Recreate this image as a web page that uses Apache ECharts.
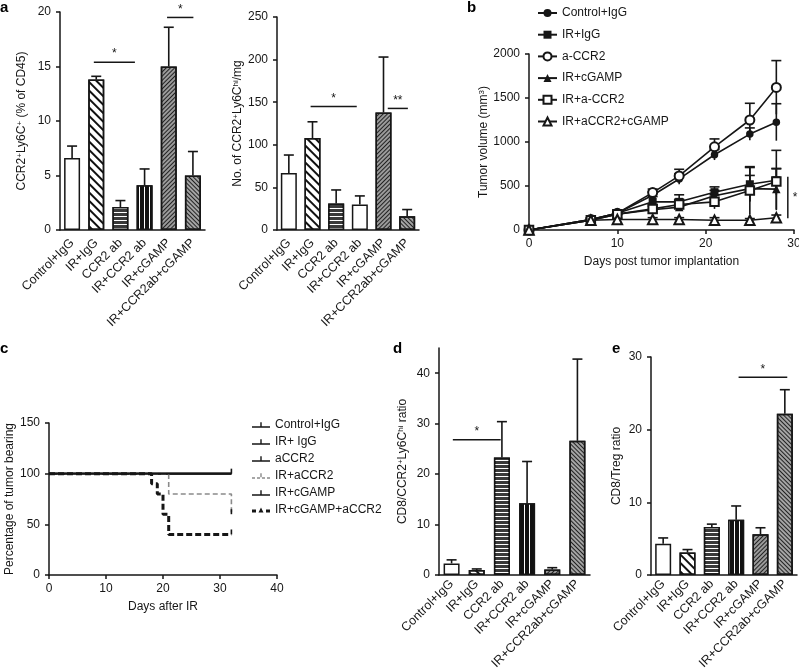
<!DOCTYPE html>
<html>
<head>
<meta charset="utf-8">
<script src="https://cdn.jsdelivr.net/npm/echarts@6/dist/echarts.min.js"></script>
<style>
html, body { margin: 0; padding: 0; background: #fff; }
.layer { position: absolute; left: 0; top: 0; width: 799px; height: 668px; }
</style>
</head>
<body>
<div id="main" class="layer"></div>
<div id="surv" class="layer"></div>
<script>
// groups shared by the bar panels (a, d, e)
var groups = ['Control+IgG', 'IR+IgG', 'CCR2 ab', 'IR+CCR2 ab', 'IR+cGAMP', 'IR+CCR2ab+cGAMP'];

// panel a, left: CCR2+Ly6C+ (% of CD45)
var pctMean = [6.6, 13.8, 2.1, 4.1, 15.0, 5.0];
var pctErr = [1.1, 0.3, 0.6, 1.5, 3.6, 2.2];
// panel a, right: No. of CCR2+Ly6Chi / mg
var cntMean = [67, 108, 31, 30, 138, 16];
var cntErr = [21, 19, 16, 10, 65, 8];
// panel d: CD8 / CCR2+Ly6Chi ratio
var moMean = [2.3, 1.0, 23.3, 14.2, 1.1, 26.6];
var moErr = [0.7, 0.2, 7.1, 8.3, 0.35, 16.2];
// panel e: CD8 / Treg ratio
var tregMean = [4.3, 3.1, 6.6, 7.6, 5.6, 22.2];
var tregErr = [0.8, 0.4, 0.4, 1.9, 0.9, 3.3];

// significance bars: [from category, to category, height, label]
var pctSig = [[0.9, 2.6, 15.4, '*'], [3.93, 5.02, 19.5, '*']];
var cntSig = [[0.92, 2.87, 145, '*'], [4.18, 5.03, 142.7, '**']];
var moSig = [[0.05, 1.95, 26.8, '*']];
var tregSig = [[3.1, 5.1, 27.2, '*']];

// panel b: tumour volume (mm3) by day
var days = [0, 7, 10, 14, 17, 21, 25, 28];
var volNames = ['Control+IgG', 'IR+IgG', 'a-CCR2', 'IR+cGAMP', 'IR+a-CCR2', 'IR+aCCR2+cGAMP'];
var volCtrl = [0, 120, 190, 395, 580, 855, 1090, 1225];
var volIR = [0, 120, 190, 320, 320, 430, 520, 565];
var volCCR2 = [0, 120, 190, 425, 615, 945, 1250, 1620];
var volCG = [0, 110, 180, 230, 260, 390, 470, 465];
var volIRCCR2 = [0, 110, 180, 240, 290, 320, 450, 550];
var volTriple = [0, 110, 120, 120, 120, 110, 110, 140];
var volCtrlErr = [0, 15, 20, 40, 60, 60, 70, 210];
var volIRErr = [0, 20, 25, 60, 80, 60, 190, 340];
var volCCR2Err = [0, 15, 25, 40, 75, 90, 190, 305];
var volCGErr = [0, 15, 20, 40, 40, 60, 150, 230];
var volIRCCR2Err = [0, 15, 20, 50, 60, 80, 270, 150];
var volTripleErr = [0, 10, 15, 20, 20, 30, 20, 30];
var volSig = [[29.3, 133, 606, '*']];

// panel c: Kaplan-Meier, percentage tumour bearing
var kmNames = ['Control+IgG', 'IR+ IgG', 'aCCR2', 'IR+aCCR2', 'IR+cGAMP', 'IR+cGAMP+aCCR2'];
var kmCtrl = [[0, 100], [32, 100]];
var kmIR = [[0, 100], [32, 100]];
var kmCCR2 = [[0, 100], [32, 100]];
var kmIRCCR2 = [[0, 100], [21, 80], [32, 60]];
var kmCG = [[0, 100], [32, 100]];
var kmCGCCR2 = [[0, 100], [18, 90], [19, 80], [20, 60], [21, 40], [32, 40]];
var kmCensor = [[32, 100], [32, 60], [32, 40]];

var ink = '#161616';
var font = "'Liberation Sans', Arial, sans-serif";
var supRich = { s: { fontSize: 8, verticalAlign: 'top', fontFamily: font, color: ink } };

// bar fills
function stripes(color, on, off, rot) {
    return { symbol: 'rect', color: color, dashArrayX: [1, 0], dashArrayY: [on, off], rotation: rot };
}
var looks = {
    open: { color: '#fff' },
    diag: { color: '#fff', decal: stripes('#111', 2, 4, Math.PI / 4) },
    horiz: { color: '#3a3a3a', decal: stripes('#fff', 1, 3, 0) },
    vert: { color: '#111', decal: stripes('#fff', 1, 4, Math.PI / 2) },
    fine: { color: '#9a9a9a', decal: stripes('#222', 1, 2, -Math.PI / 4) },
    fineBack: { color: '#a4a4a4', decal: stripes('#222', 1, 2, Math.PI / 4) }
};
var looksA1 = ['open', 'diag', 'horiz', 'vert', 'fine', 'fineBack'];
var looksA2 = ['open', 'diag', 'horiz', 'open', 'fine', 'fineBack'];
var looksD = ['open', 'diag', 'horiz', 'vert', 'fine', 'fineBack'];
var looksE = ['open', 'diag', 'horiz', 'vert', 'fine', 'fineBack'];

function plainNumber(v) { return String(v); }
function valueAxis(grid, max, step, name, gap) {
    return {
        type: 'value', gridIndex: grid, min: 0, max: max, interval: step,
        name: name, nameLocation: 'middle', nameGap: gap,
        nameTextStyle: { color: ink, fontSize: 12, fontFamily: font, rich: supRich },
        axisLine: { show: true, lineStyle: { color: ink, width: 1.5 } },
        axisTick: { show: true, length: 4, lineStyle: { color: ink, width: 1.5 } },
        axisLabel: { color: ink, fontSize: 12, fontFamily: font, margin: 9, formatter: plainNumber },
        splitLine: { show: false }
    };
}
function catAxis(grid, margin) {
    return {
        type: 'category', gridIndex: grid, data: groups,
        axisLine: { lineStyle: { color: ink, width: 1.5 } },
        axisTick: { alignWithLabel: true, length: 4, lineStyle: { color: ink, width: 1.5 } },
        axisLabel: { rotate: 45, interval: 0, color: ink, fontSize: 12.5, fontFamily: font, margin: margin }
    };
}
function barSeries(grid, means, lookList) {
    return {
        type: 'bar', xAxisIndex: grid, yAxisIndex: grid, barWidth: 16,
        data: means.map(function (v, i) {
            var lk = looks[lookList[i]];
            return { value: v, itemStyle: { color: lk.color, decal: lk.decal, borderColor: ink, borderWidth: 1.5 } };
        })
    };
}
function errLine(api, x, y1, y2, cap) {
    var lo = api.coord([x, y1]);
    var hi = api.coord([x, y2]);
    var st = { stroke: ink, lineWidth: 1.6 };
    return [
        { type: 'line', shape: { x1: lo[0], y1: lo[1], x2: hi[0], y2: hi[1] }, style: st },
        { type: 'line', shape: { x1: hi[0] - cap, y1: hi[1], x2: hi[0] + cap, y2: hi[1] }, style: st }
    ];
}
function barErrSeries(grid, means, errs) {
    return {
        type: 'custom', xAxisIndex: grid, yAxisIndex: grid, z: 3,
        data: means.map(function (m, i) { return [i, m, m + errs[i]]; }),
        renderItem: function (params, api) {
            return { type: 'group', children: errLine(api, api.value(0), api.value(1), api.value(2), 5) };
        }
    };
}
function catX(api, v, y) {
    var k = Math.floor(v);
    return api.coord([k, y])[0] + (v - k) * api.size([1, 0])[0];
}
function sigSeries(grid, sig) {
    return {
        type: 'custom', xAxisIndex: grid, yAxisIndex: grid, z: 4,
        data: sig.map(function (s) { return [s[0], s[2]]; }),
        renderItem: function (params, api) {
            var s = sig[params.dataIndex];
            var y = api.coord([0, s[2]])[1];
            var x1 = catX(api, s[0], s[2]);
            var x2 = catX(api, s[1], s[2]);
            return {
                type: 'group', children: [
                    { type: 'line', shape: { x1: x1, y1: y, x2: x2, y2: y }, style: { stroke: ink, lineWidth: 1.5 } },
                    { type: 'text', style: { x: (x1 + x2) / 2, y: y - 2, text: s[3], align: 'center', verticalAlign: 'bottom', fill: ink, font: '12px ' + font } }
                ]
            };
        }
    };
}

// tumour growth lines
var volSets = [
    [volCtrl, volCtrlErr, 'circle', 7.5],
    [volIR, volIRErr, 'rect', 8],
    [volCCR2, volCCR2Err, 'emptyCircle', 9],
    [volCG, volCGErr, 'triangle', 8.5],
    [volIRCCR2, volIRCCR2Err, 'emptyRect', 8.5],
    [volTriple, volTripleErr, 'emptyTriangle', 9.5]
];
var volErrData = [];
volSets.forEach(function (set) {
    set[0].forEach(function (v, i) {
        if (set[1][i] > 0) volErrData.push([days[i], v - set[1][i], v + set[1][i]]);
    });
});

var series = [
    barSeries(0, pctMean, looksA1), barErrSeries(0, pctMean, pctErr), sigSeries(0, pctSig),
    barSeries(1, cntMean, looksA2), barErrSeries(1, cntMean, cntErr), sigSeries(1, cntSig),
    barSeries(3, moMean, looksD), barErrSeries(3, moMean, moErr), sigSeries(3, moSig),
    barSeries(4, tregMean, looksE), barErrSeries(4, tregMean, tregErr), sigSeries(4, tregSig),
    {
        type: 'custom', xAxisIndex: 2, yAxisIndex: 2, z: 1,
        data: volErrData,
        renderItem: function (params, api) {
            return { type: 'group', children: errLine(api, api.value(0), api.value(1), api.value(2), 5) };
        }
    },
    {
        type: 'custom', xAxisIndex: 2, yAxisIndex: 2, z: 4,
        data: volSig.map(function (s) { return [s[0], s[1], s[2]]; }),
        renderItem: function (params, api) {
            var s = volSig[params.dataIndex];
            var a = api.coord([s[0], s[1]]);
            var b = api.coord([s[0], s[2]]);
            return {
                type: 'group', children: [
                    { type: 'line', shape: { x1: a[0], y1: a[1], x2: b[0], y2: b[1] }, style: { stroke: ink, lineWidth: 1.5 } },
                    { type: 'text', style: { x: a[0] + 5, y: (a[1] + b[1]) / 2, text: s[3], align: 'left', verticalAlign: 'middle', fill: ink, font: '12px ' + font } }
                ]
            };
        }
    }
];
volSets.forEach(function (set, k) {
    series.push({
        type: 'line', name: volNames[k], xAxisIndex: 2, yAxisIndex: 2, z: 3,
        data: set[0].map(function (v, i) { return [days[i], v]; }),
        symbol: set[2], symbolSize: set[3], showSymbol: true,
        itemStyle: { color: ink, borderWidth: 1.5 },
        lineStyle: { color: ink, width: 1.6 }
    });
});

var chart = echarts.init(document.getElementById('main'));
chart.setOption({
    animation: false,
    grid: [
        { left: 60, top: 12, width: 145, height: 218, outerBoundsMode: 'none' },
        { left: 277, top: 17, width: 142, height: 213, outerBoundsMode: 'none' },
        { left: 529, top: 54, width: 265, height: 176, outerBoundsMode: 'none' },
        { left: 439, top: 348, width: 151, height: 227, outerBoundsMode: 'none' },
        { left: 651, top: 357, width: 146, height: 218, outerBoundsMode: 'none' }
    ],
    xAxis: [
        catAxis(0, 11), catAxis(1, 11),
        {
            type: 'value', gridIndex: 2, min: 0, max: 30, interval: 10,
            name: 'Days post tumor implantation', nameLocation: 'middle', nameGap: 26,
            nameTextStyle: { color: ink, fontSize: 12, fontFamily: font },
            axisLine: { lineStyle: { color: ink, width: 1.5 } },
            axisTick: { length: 4, lineStyle: { color: ink, width: 1.5 } },
            axisLabel: { color: ink, fontSize: 12, fontFamily: font, margin: 8 },
            splitLine: { show: false }
        },
        catAxis(3, 7), catAxis(4, 7)
    ],
    yAxis: [
        valueAxis(0, 20, 5, 'CCR2{s|+}Ly6C{s|+} (% of CD45)', 32),
        valueAxis(1, 250, 50, 'No. of CCR2{s|+}Ly6C{s|hi}/mg', 32),
        valueAxis(2, 2000, 500, 'Tumor volume (mm{s|3})', 37),
        (function () {
            var ax = valueAxis(3, 45, 10, 'CD8/CCR2{s|+}Ly6C{s|hi} ratio', 30);
            ax.axisLabel.customValues = [0, 10, 20, 30, 40];
            ax.axisTick.customValues = [0, 10, 20, 30, 40];
            return ax;
        })(),
        valueAxis(4, 30, 10, 'CD8/Treg ratio', 28)
    ],
    legend: {
        data: volNames, orient: 'vertical', left: 537, top: 6, padding: 0,
        itemWidth: 19, itemHeight: 10, itemGap: 7.7,
        textStyle: { color: ink, fontSize: 12, fontFamily: font, lineHeight: 14 }
    },
    graphic: [
        { type: 'text', left: 0, top: 0, style: { text: 'a', font: 'bold 15px ' + font, fill: '#000' } },
        { type: 'text', left: 467, top: 0, style: { text: 'b', font: 'bold 15px ' + font, fill: '#000' } },
        { type: 'text', left: 393, top: 341, style: { text: 'd', font: 'bold 15px ' + font, fill: '#000' } },
        { type: 'text', left: 612, top: 341, style: { text: 'e', font: 'bold 15px ' + font, fill: '#000' } }
    ],
    series: series
});

// panel c on its own instance so its legend names stay separate
var chartC = echarts.init(document.getElementById('surv'));
var tickIcon = 'path://M0,5L18,5L18,6.5L0,6.5Z M8.3,1L9.7,1L9.7,5L8.3,5Z';
var dashIcon = 'path://M0,5L3,5L3,6.5L0,6.5Z M5,5L8,5L8,6.5L5,6.5Z M10,5L13,5L13,6.5L10,6.5Z M15,5L18,5L18,6.5L15,6.5Z M8.3,1L9.7,1L9.7,5L8.3,5Z';
var boldIcon = 'path://M0,4L4,4L4,7L0,7Z M6.5,7L9,2L11.5,7Z M14,4L18,4L18,7L14,7Z';
var kmSets = [
    [kmCtrl, ink, 1.6, 'solid', tickIcon],
    [kmIR, ink, 1.6, 'solid', tickIcon],
    [kmCCR2, ink, 1.6, 'solid', tickIcon],
    [kmIRCCR2, '#8a8a8a', 1.6, [5, 3], dashIcon],
    [kmCG, ink, 1.6, 'solid', tickIcon],
    [kmCGCCR2, ink, 3, [6, 3], boldIcon]
];
var kmSeries = kmSets.map(function (set, k) {
    return {
        type: 'line', name: kmNames[k], step: 'end', data: set[0],
        symbol: 'none', itemStyle: { color: set[1] },
        lineStyle: { color: set[1], width: set[2], type: set[3] }
    };
});
kmSeries.push({
    type: 'custom', z: 5, data: kmCensor,
    renderItem: function (params, api) {
        var p = api.coord([api.value(0), api.value(1)]);
        return { type: 'line', shape: { x1: p[0], y1: p[1], x2: p[0], y2: p[1] - 5 }, style: { stroke: ink, lineWidth: 1.6 } };
    }
});

chartC.setOption({
    animation: false,
    grid: { left: 49, top: 423, width: 228, height: 152, outerBoundsMode: 'none' },
    xAxis: {
        type: 'value', min: 0, max: 40, interval: 10,
        name: 'Days after IR', nameLocation: 'middle', nameGap: 26,
        nameTextStyle: { color: ink, fontSize: 12, fontFamily: font },
        axisLine: { lineStyle: { color: ink, width: 1.5 } },
        axisTick: { length: 4, lineStyle: { color: ink, width: 1.5 } },
        axisLabel: { color: ink, fontSize: 12, fontFamily: font, margin: 8 },
        splitLine: { show: false }
    },
    yAxis: valueAxis(0, 150, 50, 'Percentage of tumor bearing', 30),
    legend: {
        data: kmNames.map(function (n, k) { return { name: n, icon: kmSets[k][4] }; }),
        orient: 'vertical', left: 252, top: 418, padding: 0,
        itemWidth: 18, itemHeight: 10, itemGap: 3,
        textStyle: { color: ink, fontSize: 12, fontFamily: font, lineHeight: 14 }
    },
    graphic: [
        { type: 'text', left: 0, top: 341, style: { text: 'c', font: 'bold 15px ' + font, fill: '#000' } }
    ],
    series: kmSeries
});
</script>
</body>
</html>
